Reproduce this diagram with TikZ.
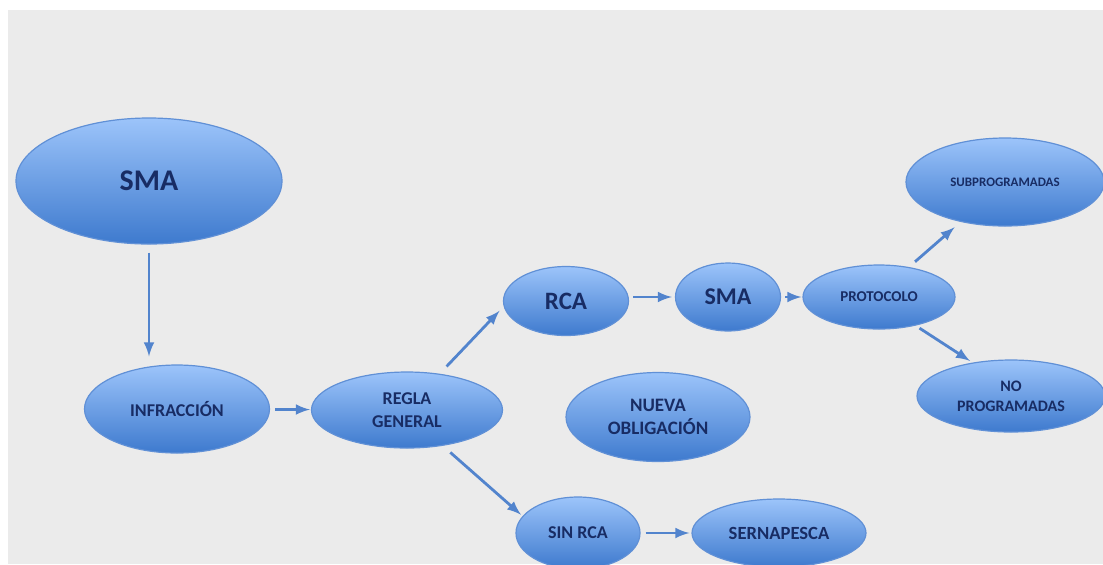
\documentclass[tikz,border=0pt]{standalone}
\usepackage{fontspec}
\setmainfont{Carlito}
\usepackage{tikz}
\usetikzlibrary{arrows,shapes.geometric}

\definecolor{bggray}{RGB}{235,235,235}
\definecolor{blobtop}{RGB}{156,196,250}
\definecolor{blobbot}{RGB}{62,122,206}
\definecolor{blobline}{RGB}{96,144,214}
\definecolor{blobtext}{RGB}{24,44,100}
\definecolor{arrblue}{RGB}{82,132,205}

\begin{document}
\begin{tikzpicture}[x=0.5pt,y=-0.5pt,
	blob/.style={ellipse,draw=blobline,line width=0.6pt,top color=blobtop,bottom color=blobbot,inner sep=0pt,text=blobtext,align=center},
	arr/.style={-latex,draw=arrblue,line width=1.4pt},
	sz/.style={font={\fontsize{#1}{11.5}\selectfont\bfseries}}
]
	\useasboundingbox (0,0) rectangle (1103,564);
	\clip (0,0) rectangle (1103,564);
	\fill[bggray] (8,10) rectangle (1103,564);

	\node[blob,sz=15,minimum width=133pt,minimum height=63pt] (sma) at (149,181) {SMA};
	\node[blob,sz=9,minimum width=92.5pt,minimum height=44pt] (infr) at (177,409) {INFRACCIÓN};
	\node[blob,sz=9,minimum width=95.5pt,minimum height=38pt] (regla) at (407,410) {REGLA\\GENERAL};

	\node[blob,sz=12.5,minimum width=62.5pt,minimum height=34.5pt] (rca) at (566,301) {RCA};
	\node[blob,sz=12,minimum width=52.5pt,minimum height=34pt] (sma2) at (728,297) {SMA};
	\node[blob,sz=7.5,minimum width=76pt,minimum height=32pt] (prot) at (879,297) {PROTOCOLO};

	\node[blob,sz=6.5,minimum width=99pt,minimum height=44pt] (subp) at (1005,182) {SUBPROGRAMADAS};
	\node[blob,font={\fontsize{8}{10}\selectfont\bfseries},minimum width=94pt,minimum height=36pt] (nop) at (1011,396) {NO\\PROGRAMADAS};

	\node[blob,sz=9.5,minimum width=92pt,minimum height=44.5pt] (nueva) at (658,417) {NUEVA\\OBLIGACIÓN};

	\node[blob,sz=9,minimum width=62pt,minimum height=36pt] (sinrca) at (578,533) {SIN RCA};
	\node[blob,sz=9.3,minimum width=87pt,minimum height=34pt] (sern) at (779,533) {SERNAPESCA};

	\draw[arr,shorten <=4pt,shorten >=4pt] (sma.south) -- (sma.south |- infr.north);
	\draw[arr,shorten <=2.5pt,shorten >=0.5pt] (infr) -- (regla);
	\draw[arr,shorten <=5pt,shorten >=3pt] (regla.48) -- (rca.185);
	\draw[arr,shorten <=5pt,shorten >=1pt] (regla.-45) -- (sinrca.163);
	\draw[arr,shorten <=2pt,shorten >=1.5pt] (rca.east |- sma2) -- (sma2);
	\draw[arr,shorten <=2pt,shorten >=0.5pt] (sma2) -- (prot);
	\draw[arr,shorten <=4pt,shorten >=4pt] (prot.45) -- (subp.222);
	\draw[arr,shorten <=2.3pt,shorten >=1.5pt] (prot.-38) -- (nop.139);
	\draw[arr,shorten <=2.5pt,shorten >=1pt] (sinrca) -- (sern);

\end{tikzpicture}
\end{document}
